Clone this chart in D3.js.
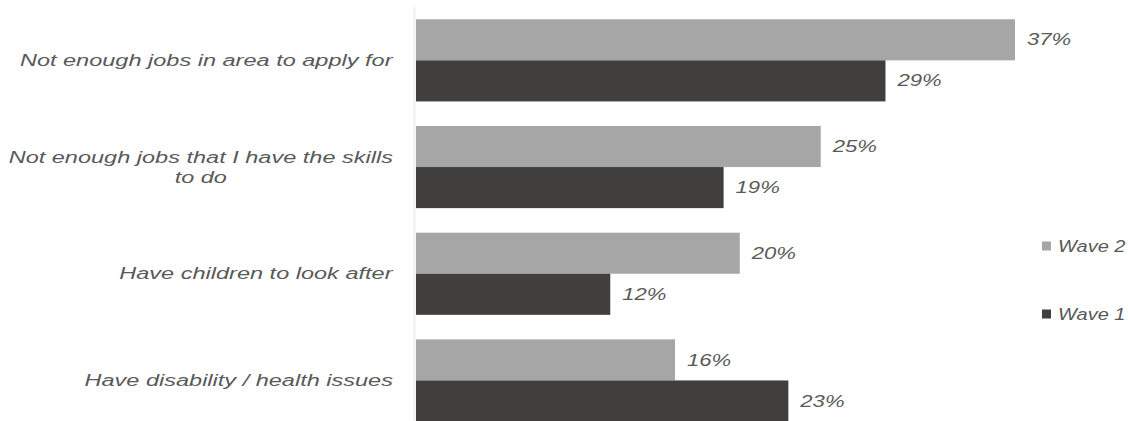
<!DOCTYPE html>
<html><head><meta charset="utf-8">
<script src="https://cdn.jsdelivr.net/npm/d3@7"></script>
<style>body{margin:0;background:#fff;}svg{display:block;}</style>
</head><body>
<svg id="chart" width="1128" height="421"></svg>
<script>
const categories = [
  ["Not enough jobs in area to apply for"],
  ["Not enough jobs that I have the skills", "to do"],
  ["Have children to look after"],
  ["Have disability / health issues"]
];
const series = ["Wave 2", "Wave 1"];
const wave2 = [37, 25, 20, 16];
const wave1 = [29, 19, 12, 23];
const colors = {"Wave 2": "#a6a6a6", "Wave 1": "#403f3d"};

const svg = d3.select("#chart");
const font = "'Liberation Sans', Arial, sans-serif";
const textColor = "#595959";
const fs = 16;

const idx = categories.map((d, i) => i);
const y = d3.scaleBand().domain(idx).range([7, 433.8]).paddingInner(0.23).paddingOuter(0.115);
const y2 = d3.scaleBand().domain(series).range([0, y.bandwidth()]);
const x = d3.scaleLinear().domain([0, 37]).range([416, 1015]);

// axis line
svg.append("line").attr("x1", 414.5).attr("x2", 414.5).attr("y1", 7).attr("y2", 421)
  .attr("stroke", "#f0f0f0").attr("stroke-width", 2);

const data = [];
idx.forEach(i => {
  data.push({i, s: "Wave 2", v: wave2[i]});
  data.push({i, s: "Wave 1", v: wave1[i]});
});

svg.selectAll("rect.bar").data(data).join("rect").attr("class", "bar")
  .attr("x", x(0)).attr("y", d => y(d.i) + y2(d.s))
  .attr("width", d => x(d.v) - x(0)).attr("height", y2.bandwidth())
  .attr("fill", d => colors[d.s]);

svg.selectAll("text.val").data(data).join("text").attr("class", "val")
  .attr("transform", d => `translate(${x(d.v) + 12},${y(d.i) + y2(d.s) + y2.bandwidth() / 2}) scale(1.38,1)`)
  .attr("dy", "0.35em")
  .attr("font-family", font).attr("font-style", "italic").attr("font-size", fs)
  .attr("fill", textColor).text(d => d.v + "%");

// category labels (right edge at 393, lines centered on each other)
const sx = 1.47;
const cat = svg.selectAll("text.cat").data(idx).join("text").attr("class", "cat")
  .attr("text-anchor", "middle")
  .attr("font-family", font).attr("font-style", "italic").attr("font-size", fs)
  .attr("fill", textColor);
cat.each(function(i) {
  const lines = categories[i];
  const cy = y(i) + y.bandwidth() / 2;
  const lh = 20;
  const t = d3.select(this);
  lines.forEach((l, k) => {
    t.append("tspan").attr("x", 0).attr("y", cy + (k - (lines.length - 1) / 2) * lh)
      .attr("dy", "0.35em").text(l);
  });
});
cat.each(function(i) {
  const bb = this.getBBox();
  const right = 393;
  d3.select(this).attr("transform", `translate(${right - bb.width * sx / 2},0) scale(${sx},1)`);
});

// legend
const legY = {"Wave 2": 246, "Wave 1": 314};
const leg = svg.selectAll("g.leg").data(series).join("g").attr("class", "leg")
  .attr("transform", d => `translate(1042,${legY[d]})`);
leg.append("rect").attr("x", 0).attr("y", -4.5).attr("width", 9).attr("height", 9)
  .attr("fill", d => colors[d]);
leg.append("text").attr("transform", "translate(16,0) scale(1.25,1)").attr("dy", "0.35em")
  .attr("font-family", font).attr("font-style", "italic").attr("font-size", fs)
  .attr("fill", textColor).text(d => d);
</script>
</body></html>
